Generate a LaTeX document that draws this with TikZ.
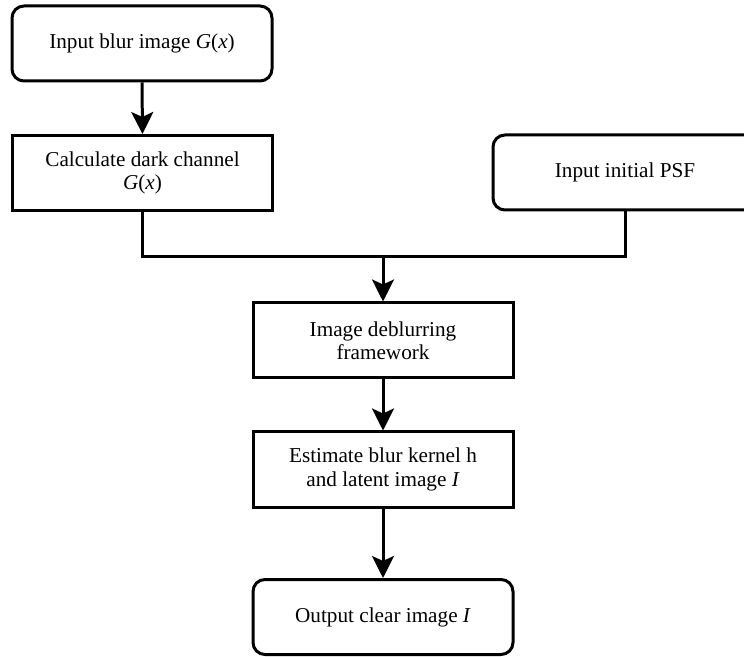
\documentclass[tikz,border=0pt]{standalone}
\usepackage{fontspec}
\setmainfont{Liberation Serif}
\usetikzlibrary{
  arrows.meta,
  positioning,
}
\tikzset{
  stepbox/.style={
    rectangle, draw=black, line width=1.5pt, fill=white,
    minimum width=130pt, minimum height=37.5pt,
    align=center, inner sep=2pt,
    font=\fontsize{10.6}{11.6}\selectfont
  },
  termbox/.style={stepbox, rounded corners=6pt},
  flowarrow/.style={-{Stealth[length=11pt, width=11pt, inset=2.5pt]}, line width=1.5pt},
  flowline/.style={line width=1.5pt},
}

\begin{document}
\begin{tikzpicture}[x=0.5pt, y=-0.5pt]

  \useasboundingbox (0,0) rectangle (744,657);

  % ── Inputs ──
  \node[termbox] (blur) at (142, 43.5) {Input blur image \textit{G}(\textit{x})};
  \node[stepbox] (dark) at (142.5, 173) {Calculate dark channel\\\textit{G}(\textit{x})};
  \node[termbox, minimum width=132pt] (psf) at (625, 172.5) {Input initial PSF};

  % ── Deblurring steps ──
  \node[stepbox] (frame) at (383, 340.5) {Image deblurring\\framework};
  \node[stepbox] (kernel) at (383, 469.5) {Estimate blur kernel h\\and latent image \textit{I}};
  \node[termbox] (output) at (383, 617) {Output clear image \textit{I}};

  % ── Connector arrows ──
  \coordinate (merge) at (383, 257);
  \draw[flowarrow] (blur.south) -- (dark.north);
  \draw[flowline] (dark.south) -- (dark.south |- merge) -| (psf.south);
  \draw[flowarrow] (merge) -- (frame.north);
  \draw[flowarrow] (frame.south) -- (kernel.north);
  \draw[flowarrow] (kernel.south) -- (output.north);

\end{tikzpicture}
\end{document}
